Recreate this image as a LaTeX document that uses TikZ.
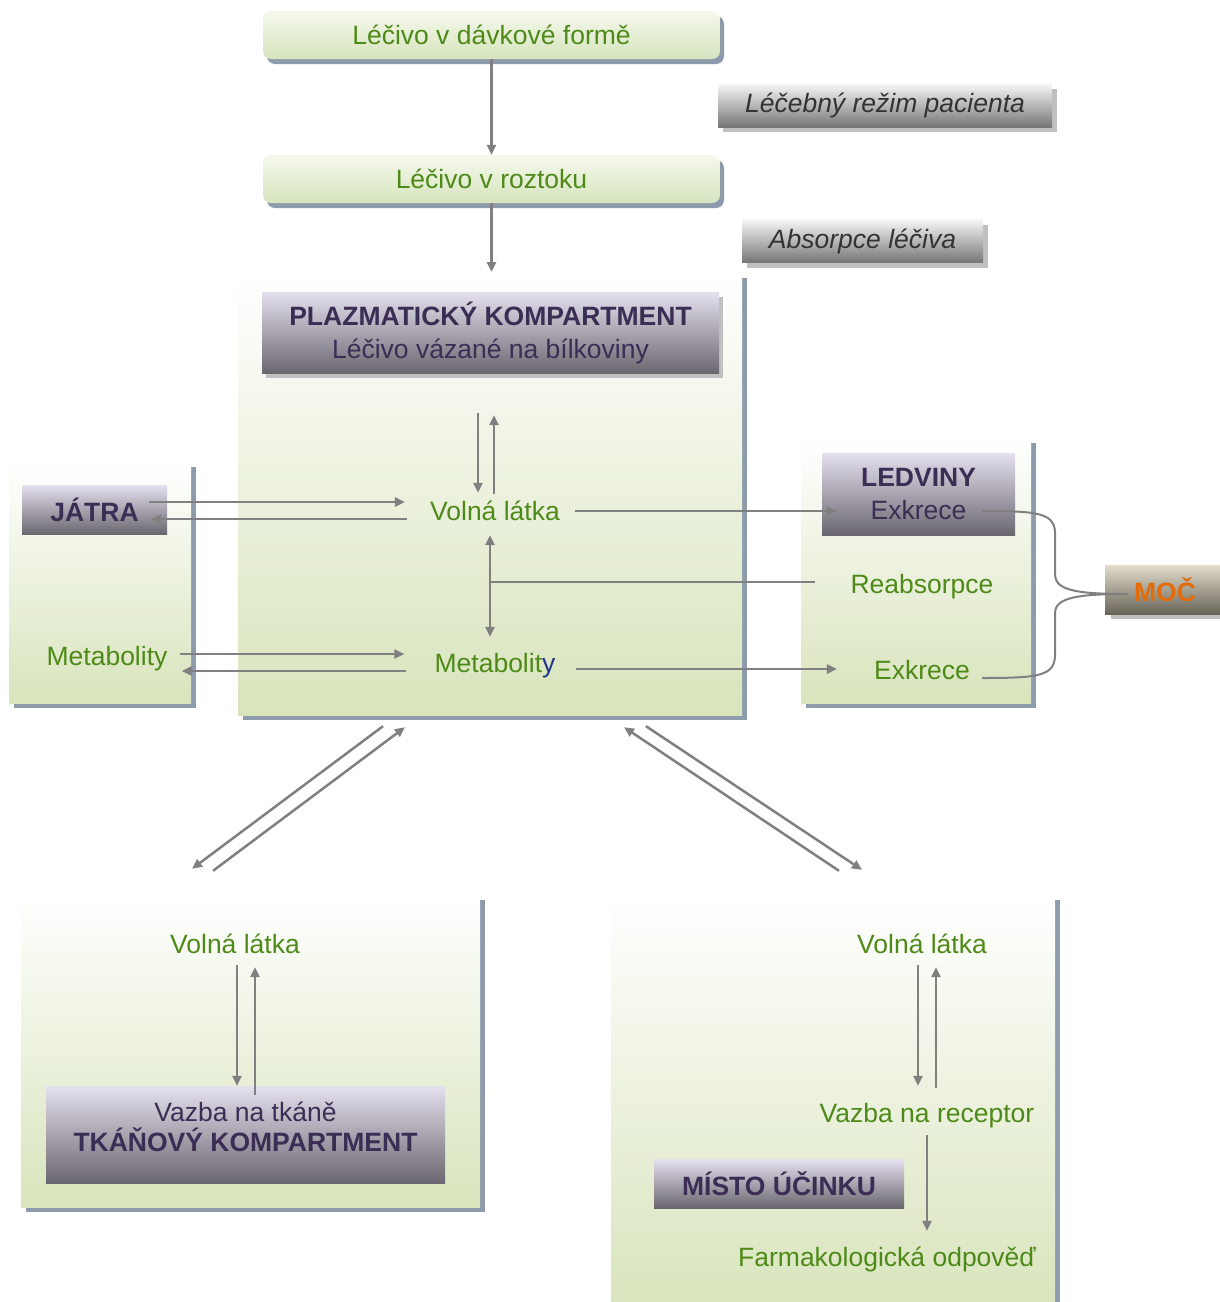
\documentclass[tikz,border=0pt]{standalone}
\usepackage{fontspec}
\setmainfont{Liberation Sans}
\usetikzlibrary{arrows.meta,shadows}

\begin{document}
\begin{tikzpicture}[x=1pt,y=-1pt,every node/.style={font=\fontsize{26.5}{33}\selectfont}]

		\definecolor{zeltext}{RGB}{78,138,24}
		\definecolor{zelpozadi}{RGB}{216,228,188}
		\definecolor{davkahore}{RGB}{245,249,236}
		\definecolor{davkadole}{RGB}{214,228,190}
		\definecolor{stin}{RGB}{141,155,173}
		\definecolor{svetlystin}{RGB}{192,192,192}
		\definecolor{fialhore}{RGB}{229,224,238}
		\definecolor{fialdole}{RGB}{107,103,112}
		\definecolor{fialtext}{RGB}{60,45,85}
		\definecolor{sedahore}{RGB}{246,246,246}
		\definecolor{sedadole}{RGB}{118,118,118}
		\definecolor{sedytext}{RGB}{51,51,51}
		\definecolor{mochore}{RGB}{226,221,204}
		\definecolor{mocdole}{RGB}{104,100,88}
		\definecolor{oranz}{RGB}{227,108,9}
		\definecolor{modra}{RGB}{31,56,140}
		\definecolor{seda}{RGB}{128,128,128}

		\useasboundingbox (0,0) rectangle (1220,1302);
		%\draw[help lines,step=100] (0,0) grid (1220,1302);

		\tikzstyle{spoj} = [draw=seda,line width=2.5pt]
		\tikzset{sipka/.style = {spoj,-{Triangle[width=9pt,length=10pt]}}}
		\tikzset{obousmer/.style = {spoj,{Triangle[width=9pt,length=10pt]}-{Triangle[width=9pt,length=10pt]}}}

		\tikzset{kompart/.style = {rectangle,inner sep=0pt,top color=white,bottom color=zelpozadi,drop shadow={shadow xshift=5pt,shadow yshift=-5pt,fill=stin,opacity=1}}}
		\node[kompart,minimum width=504pt,minimum height=442pt] (plazma) at (490,494) {};
		\node[kompart,minimum width=182pt,minimum height=241pt] (jatrabox) at (100,582.5) {};
		\node[kompart,minimum width=230pt,minimum height=265pt] (ledvinybox) at (916,570.5) {};
		\node[kompart,minimum width=459pt,minimum height=312pt] (tkanbox) at (250.5,1051) {};
		\node[kompart,minimum width=444pt,minimum height=415pt] (mistobox) at (833,1102.5) {};

		\tikzset{davka/.style = {rectangle,rounded corners=8pt,top color=davkahore,bottom color=davkadole,text=zeltext,minimum width=457pt,minimum height=48pt,drop shadow={shadow xshift=4pt,shadow yshift=-5pt,fill=stin,opacity=1}}}
		\node[davka] (forma) at (491.5,35) {Léčivo v dávkové formě};
		\node[davka] (roztok) at (491.5,179) {Léčivo v roztoku};

		\tikzset{rezim/.style = {rectangle,top color=sedahore,bottom color=sedadole,text=sedytext,minimum height=43pt,font=\fontsize{26.5}{33}\selectfont\itshape,drop shadow={shadow xshift=5pt,shadow yshift=-5pt,fill=svetlystin,opacity=1}}}
		\node[rezim,minimum width=334pt] (lecba) at (885,105.5) {Léčebný režim pacienta};
		\node[rezim,minimum width=241pt] (absorpce) at (862.5,241) {Absorpce léčiva};

		\tikzset{hlavicka/.style = {rectangle,inner sep=0pt,align=center,top color=fialhore,bottom color=fialdole,text=fialtext}}
		\node[hlavicka,minimum width=457pt,minimum height=81pt,drop shadow={shadow xshift=4pt,shadow yshift=-5pt,fill=svetlystin,opacity=1}] (plazmahlav) at (490.5,332.5) {\textbf{PLAZMATICKÝ KOMPARTMENT}\\Léčivo vázané na bílkoviny};
		\node[hlavicka,minimum width=145pt,minimum height=49pt] (jatra) at (94.5,509.5) {\textbf{JÁTRA}};
		\node[hlavicka,minimum width=193pt,minimum height=82pt] (ledviny) at (918.5,494) {\textbf{LEDVINY}\\Exkrece};
		\node[hlavicka,minimum width=399pt,minimum height=97pt] (tkan) at (245.5,1134.5) {Vazba na tkáně\\[-3pt]\textbf{TKÁŇOVÝ KOMPARTMENT}\rule[-16pt]{0pt}{16pt}};
		\node[hlavicka,minimum width=250pt,minimum height=49pt] (misto) at (779,1183.5) {\textbf{MÍSTO ÚČINKU}};

		\tikzset{mocbox/.style = {rectangle,top color=mochore,bottom color=mocdole,text=oranz,minimum width=120pt,minimum height=49pt,drop shadow={shadow xshift=6pt,shadow yshift=-5pt,fill=svetlystin,opacity=1}}}
		\node[mocbox] (moc) at (1165,589.5) {\textbf{MOČ}};

		\tikzset{popis/.style = {inner sep=0pt,text height=21pt,text depth=3pt,text=zeltext}}
		\node[popis] (volna) at (495,511) {Volná látka};
		\node[popis] (metab) at (495,663) {Metabolit{\color{modra}y}};
		\node[popis] (jmetab) at (107,656) {Metabolity};
		\node[popis] (reabs) at (922,584) {Reabsorpce};
		\node[popis] (exkrece) at (922,670) {Exkrece};
		\node[popis] (tvolna) at (235,944) {Volná látka};
		\node[popis] (mvolna) at (922,944) {Volná látka};
		\node[popis] (receptor) at (927,1113) {Vazba na receptor};
		\node[popis] (odpoved) at (887,1257) {Farmakologická odpověď};

		\coordinate (vstup) at (491.5,272);
		\coordinate (odbocka) at (490,582);

		\draw[sipka] (forma) to (roztok);
		\draw[sipka] (roztok) to (vstup);
		\draw[sipka] ([xshift=-12.5pt,yshift=-40pt]plazmahlav.south) to ([xshift=-17pt,yshift=6pt]volna.north);
		\draw[sipka] ([xshift=-1pt,yshift=5pt]volna.north) to ([xshift=3.5pt,yshift=-42pt]plazmahlav.south);
		\draw[sipka] ([xshift=-18pt,yshift=7.5pt]jatra.east) to ([xshift=-25pt,yshift=9pt]volna.west);
		\draw[sipka] ([xshift=-23pt,yshift=-8pt]volna.west) to ([xshift=-16pt,yshift=-9.5pt]jatra.east);
		\draw[sipka] ([xshift=12pt,yshift=2pt]jmetab.east) to ([xshift=-30pt,yshift=9pt]metab.west);
		\draw[sipka] ([xshift=-28pt,yshift=-8pt]metab.west) to ([xshift=14pt,yshift=-15pt]jmetab.east);
		\draw[obousmer] ([xshift=-5pt,yshift=-12pt]volna.south) to ([xshift=-5pt,yshift=14pt]metab.north);
		\draw[spoj] (odbocka) to ([xshift=-35pt,yshift=2pt]reabs.west);
		\draw[sipka] ([xshift=15pt]volna.east) to ([xshift=15pt,yshift=-17pt]ledviny.west);
		\draw[sipka] ([xshift=20pt,yshift=-6pt]metab.east) to ([xshift=-37pt,yshift=1pt]exkrece.west);
		\draw[spoj,line width=2pt] ([xshift=-33pt,yshift=-17pt]ledviny.east) .. controls +(58,0) and +(0,-22) .. ++(73,24) -- ++(0,40) .. controls +(0,16) and +(-48,0) .. ([xshift=23pt,yshift=-4.5pt]moc.west);
		\draw[spoj,line width=2pt] ([xshift=12pt,yshift=-8pt]exkrece.east) .. controls +(58,0) and +(0,22) .. ++(73,-24) -- ++(0,-41) .. controls +(0,-16) and +(-48,0) .. ([xshift=23pt,yshift=-4.5pt]moc.west);
		\draw[sipka] ([xshift=-107pt,yshift=-11pt]plazma.south) to ([xshift=-58.5pt,yshift=26pt]tkanbox.north);
		\draw[sipka] ([xshift=-37.5pt,yshift=24pt]tkanbox.north) to ([xshift=-85pt,yshift=-12pt]plazma.south);
		\draw[sipka] ([xshift=6pt,yshift=24pt]mistobox.north) to ([xshift=134pt,yshift=-12pt]plazma.south);
		\draw[sipka] ([xshift=156pt,yshift=-11pt]plazma.south) to ([xshift=29pt,yshift=25pt]mistobox.north);
		\draw[sipka] ([xshift=2pt,yshift=-9pt]tvolna.south) to ([xshift=-8.5pt]tkan.north);
		\draw[sipka] ([xshift=9.5pt,yshift=-9pt]tkan.north) to ([xshift=20pt,yshift=-11pt]tvolna.south);
		\draw[sipka] ([xshift=-4pt,yshift=-9pt]mvolna.south) to ([xshift=-9pt,yshift=15pt]receptor.north);
		\draw[sipka] ([xshift=9pt,yshift=13pt]receptor.north) to ([xshift=14pt,yshift=-11pt]mvolna.south);
		\draw[sipka] ([yshift=-10pt]receptor.south) to ([xshift=40pt,yshift=14pt]odpoved.north);
\end{tikzpicture}
\end{document}
